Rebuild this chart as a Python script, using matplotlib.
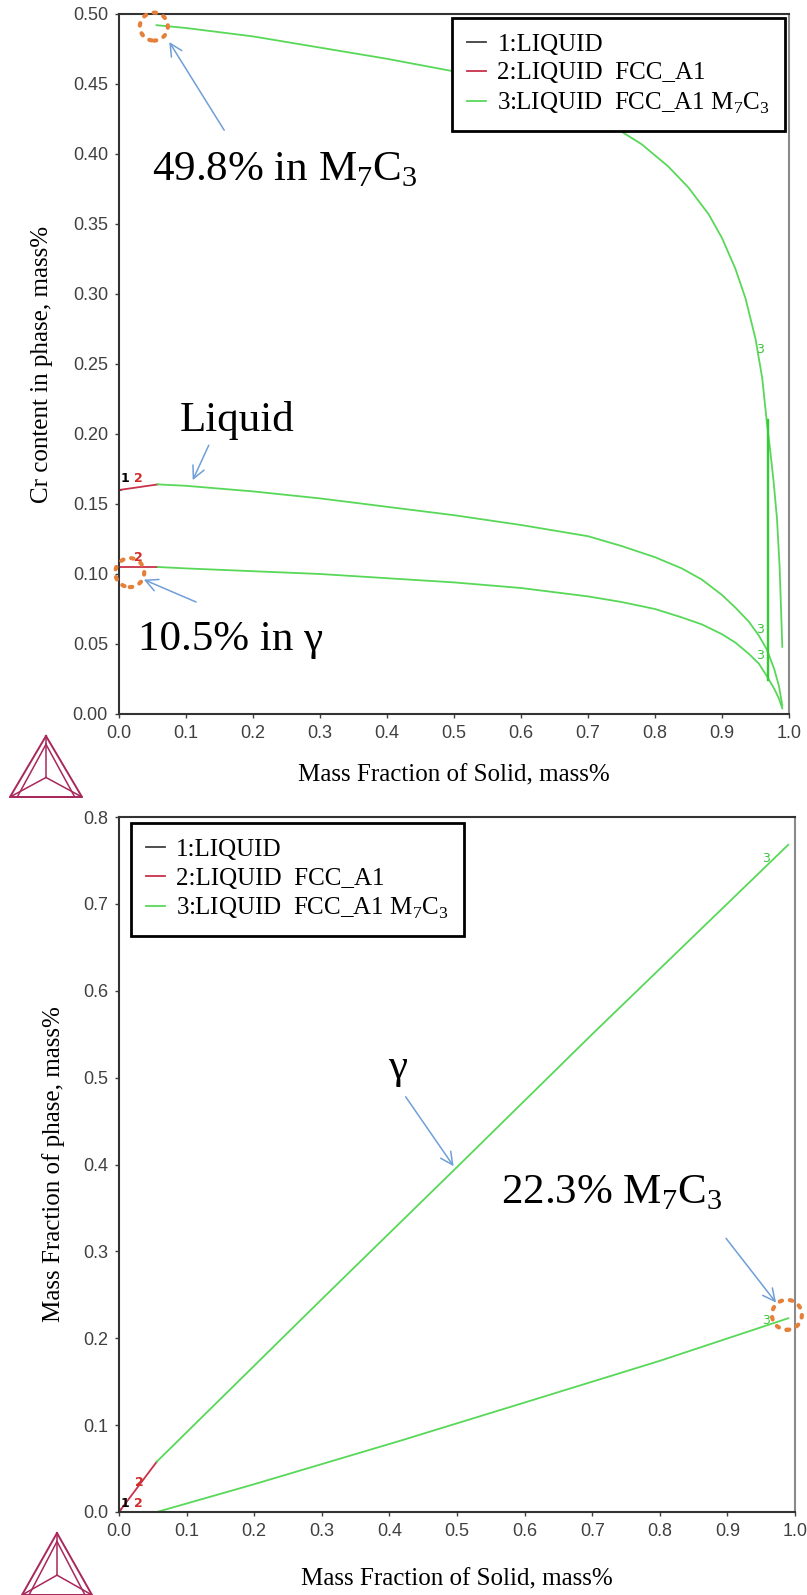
import numpy as np
import matplotlib.pyplot as plt
from matplotlib.patches import Ellipse
from matplotlib.lines import Line2D

plt.rcParams['font.family'] = ['Liberation Serif', 'DejaVu Serif']
plt.rcParams['mathtext.fontset'] = 'custom'
plt.rcParams['mathtext.rm'] = 'Liberation Serif'

# ---- top: Cr content in phase ----
liq_red_x = [0.0, 0.058]
liq_red_y = [0.160, 0.164]
liq_x = [0.058, 0.1, 0.2, 0.3, 0.4, 0.5, 0.6, 0.65, 0.7, 0.75, 0.8, 0.84, 0.87, 0.9, 0.92,
         0.94, 0.955, 0.967, 0.978, 0.985, 0.99]
liq_y = [0.164, 0.163, 0.159, 0.154, 0.148, 0.142, 0.135, 0.131, 0.127, 0.120, 0.112, 0.104,
         0.096, 0.085, 0.076, 0.066, 0.056, 0.046, 0.032, 0.020, 0.006]

fcc_red_x = [0.0, 0.058]
fcc_red_y = [0.105, 0.105]
fcc_x = [0.058, 0.1, 0.2, 0.3, 0.4, 0.5, 0.6, 0.65, 0.7, 0.75, 0.8, 0.84, 0.87, 0.9, 0.92,
         0.94, 0.955, 0.967, 0.978, 0.985, 0.99]
fcc_y = [0.105, 0.104, 0.102, 0.100, 0.097, 0.094, 0.090, 0.087, 0.084, 0.080, 0.075, 0.069,
         0.064, 0.057, 0.051, 0.043, 0.036, 0.027, 0.018, 0.011, 0.004]

m7c3_x = [0.056, 0.1, 0.2, 0.3, 0.4, 0.5, 0.55, 0.6, 0.65, 0.7, 0.74, 0.78, 0.82, 0.85, 0.88,
          0.9, 0.92, 0.935, 0.95, 0.96, 0.967, 0.972, 0.977, 0.982, 0.986, 0.99]
m7c3_y = [0.492, 0.490, 0.484, 0.476, 0.468, 0.459, 0.453, 0.446, 0.438, 0.429, 0.419, 0.407,
          0.391, 0.376, 0.357, 0.340, 0.318, 0.297, 0.268, 0.240, 0.208, 0.188, 0.166, 0.140,
          0.105, 0.048]
drop_x = [0.969, 0.969]
drop_y = [0.210, 0.024]

# ---- bottom: mass fraction of phase ----
b_liq_x = [0.0, 0.003]
b_liq_y = [0.0, 0.003]
b_fcc_red_x = [0.0, 0.056]
b_fcc_red_y = [0.0, 0.058]
b_fcc_x = [0.056, 0.3, 0.5, 0.7, 0.99]
b_fcc_y = [0.058, 0.245, 0.397, 0.550, 0.768]
b_m7c3_x = [0.056, 0.2, 0.416, 0.6, 0.8, 0.99]
b_m7c3_y = [0.0, 0.032, 0.082, 0.126, 0.174, 0.223]

labels = ['1:LIQUID', '2:LIQUID  FCC_A1',
          r'3:LIQUID  FCC_A1 M$_\mathregular{7}$C$_\mathregular{3}$']

GREEN = '#58d858'
RED = '#c8324a'
DARK = '#404040'
ORANGE = '#e5803a'
BLUE = '#6f9fd8'
LOGO = '#a8285a'

W, H = 807, 1595
fig = plt.figure(figsize=(W / 100, H / 100), dpi=100)
ax1 = fig.add_axes([119 / W, 1 - 714 / H, 670 / W, 700 / H])
ax2 = fig.add_axes([119 / W, 1 - 1512 / H, 676 / W, 695 / H])


def style(ax, ymax, ystep, fmt):
    ax.set_xlim(0, 1)
    ax.set_ylim(0, ymax)
    ax.set_xticks(np.arange(0, 1.001, 0.1))
    ax.set_yticks(np.arange(0, ymax + 1e-9, ystep))
    ax.xaxis.set_major_formatter(plt.FormatStrFormatter('%.1f'))
    ax.yaxis.set_major_formatter(plt.FormatStrFormatter(fmt))
    ax.tick_params(direction='out', length=3, width=1, colors='#404040', labelsize=13,
                   labelfontfamily='Liberation Sans', pad=5)
    for s in ['left', 'bottom', 'top']:
        ax.spines[s].set_color('#333333')
        ax.spines[s].set_linewidth(1.5)
    ax.spines['right'].set_color('#8a8a8a')
    ax.spines['right'].set_linewidth(1.5)


def ring(ax, x, y, r_px):
    pos = ax.get_position()
    x0, x1 = ax.get_xlim()
    y0, y1 = ax.get_ylim()
    w = 2 * r_px / (pos.width * W) * (x1 - x0)
    h = 2 * r_px / (pos.height * H) * (y1 - y0)
    ax.add_patch(Ellipse((x, y), w, h, fill=False, ec=ORANGE, lw=3,
                         ls=(0, (0.6, 1.9)), capstyle='round', clip_on=False, zorder=5))


def arrow(ax, head, tail):
    ax.annotate('', xy=head, xytext=tail,
                arrowprops=dict(arrowstyle='->', color=BLUE, lw=1.1, mutation_scale=22,
                                shrinkA=0, shrinkB=0))


def logo(cx, top, half, bottom):
    tx = lambda px: px / W
    ty = lambda py: 1 - py / H
    ox, oy = cx, top + 0.68 * (bottom - top)
    pts = [(cx, top), (cx - half, bottom), (cx + half, bottom), (cx, top)]
    fig.add_artist(Line2D([tx(p[0]) for p in pts], [ty(p[1]) for p in pts], color=LOGO, lw=1.4))
    k = 0.8
    inner = [(cx, oy + (top - oy) * k), (cx + (-half) * k, oy + (bottom - oy) * k + 4),
             (cx + half * k, oy + (bottom - oy) * k + 4), (cx, oy + (top - oy) * k)]
    fig.add_artist(Line2D([tx(p[0]) for p in inner], [ty(p[1]) for p in inner], color=LOGO, lw=1.1))
    for vx, vy in pts[:3]:
        fig.add_artist(Line2D([tx(ox), tx(vx)], [ty(oy), ty(vy)], color=LOGO, lw=1.1))


def legend(ax, **kw):
    leg = ax.legend(borderaxespad=0, fontsize=18, handlelength=0.75, handletextpad=0.45,
                    labelspacing=0.25, borderpad=0.6, fancybox=False, framealpha=1, **kw)
    leg.get_frame().set_edgecolor('black')
    leg.get_frame().set_linewidth(2)


LW = 1.3

# ---------------- top panel ----------------
ax1.plot(liq_red_x[:1] + [0.003], liq_red_y[:1] + [0.160], color=DARK, lw=LW, label=labels[0])
ax1.plot(liq_red_x, liq_red_y, color=RED, lw=LW, label=labels[1])
ax1.plot(fcc_red_x, fcc_red_y, color=RED, lw=LW)
ax1.plot(liq_x, liq_y, color=GREEN, lw=LW, label=labels[2])
ax1.plot(fcc_x, fcc_y, color=GREEN, lw=LW)
ax1.plot(m7c3_x, m7c3_y, color=GREEN, lw=LW)
ax1.plot(drop_x, drop_y, color='#33cc33', lw=1.7)

num = dict(fontfamily='DejaVu Sans', fontweight='bold', fontsize=9)
ax1.text(0.003, 0.166, '1', color='black', **num)
ax1.text(0.022, 0.166, '2', color='#d42a2a', **num)
ax1.text(0.022, 0.109, '2', color='#d42a2a', **num)
for yy in [0.258, 0.058, 0.039]:
    ax1.text(0.951, yy, '3', color='#3cc43c', fontfamily='DejaVu Sans', fontsize=9)

style(ax1, 0.5, 0.05, '%.2f')
ax1.set_xlabel('Mass Fraction of Solid, mass%', fontsize=18)
ax1.set_ylabel('Cr content in phase, mass%', fontsize=18)
ax1.xaxis.set_label_coords(0.5, -0.072)
ax1.yaxis.set_label_coords(-0.098, 0.5)
legend(ax1, loc='upper right', bbox_to_anchor=(0.994, 0.994))

big = dict(fontsize=31, ha='left', va='baseline')
ring(ax1, 0.052, 0.491, 14)
arrow(ax1, (0.075, 0.480), (0.157, 0.417))
ax1.text(0.049, 0.381, r'49.8% in M$_\mathregular{7}$C$_\mathregular{3}$', **big)
ax1.text(0.091, 0.202, 'Liquid', **big)
arrow(ax1, (0.110, 0.167), (0.134, 0.192))
ring(ax1, 0.016, 0.101, 14.5)
arrow(ax1, (0.037, 0.096), (0.115, 0.080))
ax1.text(0.028, 0.046, '10.5% in γ', **big)

# ---------------- bottom panel ----------------
ax2.plot(b_liq_x, b_liq_y, color=DARK, lw=LW, label=labels[0])
ax2.plot(b_fcc_red_x, b_fcc_red_y, color=RED, lw=LW, label=labels[1])
ax2.plot(b_fcc_x, b_fcc_y, color=GREEN, lw=LW, label=labels[2])
ax2.plot(b_m7c3_x, b_m7c3_y, color=GREEN, lw=LW)

ax2.text(0.002, 0.006, '1', color='black', **num)
ax2.text(0.022, 0.006, '2', color='#d42a2a', **num)
ax2.text(0.024, 0.030, '2', color='#d42a2a', **num)
ax2.text(0.951, 0.748, '3', color='#3cc43c', fontfamily='DejaVu Sans', fontsize=9)
ax2.text(0.951, 0.216, '3', color='#3cc43c', fontfamily='DejaVu Sans', fontsize=9)

style(ax2, 0.8, 0.1, '%.1f')
ax2.set_xlabel('Mass Fraction of Solid, mass%', fontsize=18)
ax2.set_ylabel('Mass Fraction of phase, mass%', fontsize=18)
ax2.xaxis.set_label_coords(0.5, -0.081)
ax2.yaxis.set_label_coords(-0.08, 0.5)
legend(ax2, loc='upper left', bbox_to_anchor=(0.018, 0.991))

ax2.text(0.398, 0.50, 'γ', **big)
arrow(ax2, (0.495, 0.398), (0.424, 0.478))
ax2.text(0.565, 0.355, r'22.3% M$_\mathregular{7}$C$_\mathregular{3}$', **big)
arrow(ax2, (0.972, 0.241), (0.898, 0.315))
ring(ax2, 0.988, 0.227, 15)

logo(46, 736, 36, 797)
logo(57, 1533, 35, 1595)

fig.savefig('out.png', dpi=100)
